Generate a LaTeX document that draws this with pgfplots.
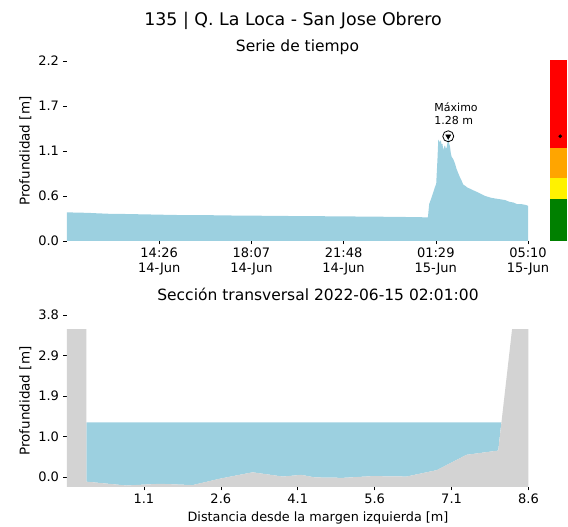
\documentclass[border=0pt]{standalone}
\usepackage{pgfplots}
\pgfplotsset{compat=1.18}
\usepackage{fontspec}
\setmainfont{DejaVu Sans}
\definecolor{agua}{HTML}{9CD0E0}
\definecolor{terreno}{HTML}{D3D3D3}
\definecolor{naranja}{HTML}{FFA500}
\definecolor{verde}{HTML}{008000}

\pgfplotsset{
  panel/.style={scale only axis, anchor=south west,
    axis line style={draw=none}, tick align=outside,
    major tick length=3.5pt, tick style={black, line width=0.6pt},
    xtick pos=left, ytick pos=left,
    ticklabel style={font=\fontsize{13}{15}\selectfont},
    ylabel style={font=\fontsize{13.5}{16}\selectfont},
    yticklabel style={xshift=-1pt},
  },
}

\pgfplotstableread{
t h
0 0.350
25 0.347
50 0.344
75 0.338
104 0.332
140 0.330
180 0.326
220 0.322
260 0.318
303 0.315
340 0.316
380 0.312
420 0.311
460 0.309
500 0.307
544 0.305
590 0.304
630 0.302
670 0.300
710 0.299
750 0.297
785 0.295
820 0.293
850 0.291
869 0.288
872 0.450
877 0.520
881 0.580
886 0.660
889 0.700
892 1.000
894 1.240
896 1.220
898 1.210
900 1.230
902 1.180
904 1.190
906 1.110
908 1.150
910 1.170
912 1.130
914 1.140
916 1.200
918 1.280
920 1.190
922 1.160
924 1.080
926 1.030
930 1.000
934 0.950
938 0.880
942 0.830
946 0.780
950 0.740
954 0.690
960 0.670
965 0.650
970 0.640
978 0.620
987 0.600
995 0.580
1007 0.550
1020 0.530
1030 0.520
1043 0.510
1055 0.500
1065 0.480
1075 0.470
1084 0.450
1095 0.450
1105 0.440
1110 0.430
}\serie

\begin{document}
\begin{tikzpicture}
\useasboundingbox (0,0) rectangle (568pt,527pt);

% serie de tiempo
\begin{axis}[panel, at={(67pt,286pt)}, width=461pt, height=180pt,
  xmin=0, xmax=1110, ymin=0, ymax=2.2,
  xtick={222,444,666,888,1110},
  xticklabels={14:26\\14-Jun,18:07\\14-Jun,21:48\\14-Jun,01:29\\15-Jun,05:10\\15-Jun},
  xticklabel style={align=center},
  ytick={0,0.55,1.1,1.65,2.2},
  yticklabels={0.0,0.6,1.1,1.7,2.2},
  ylabel={Profundidad [m]},
  title={Serie de tiempo},
  title style={font=\fontsize{15.5}{18}\selectfont, yshift=-3pt},
  clip=false]
\addplot[fill=agua, draw=none] table[x=t, y=h] {\serie} \closedcycle;
\addplot[only marks, mark=o, mark size=5.5pt, mark options={fill=white, draw=black, line width=0.8pt}] coordinates {(918,1.28)};
\addplot[only marks, mark=triangle*, mark size=3pt, mark options={rotate=180, fill=black, draw=black}] coordinates {(918,1.28)};
\node[anchor=south west, align=left, inner sep=0pt, font=\fontsize{11}{13}\selectfont]
  at (axis cs:918,1.28) [xshift=-14pt, yshift=11pt] {Máximo\\1.28 m};
\end{axis}

% barra de umbrales
\begin{axis}[scale only axis, anchor=south west, at={(550pt,286pt)},
  width=17pt, height=180pt, xmin=0, xmax=1, ymin=0, ymax=2.2, hide axis]
\addplot[fill=verde, draw=none] coordinates {(0,0) (1,0) (1,0.51) (0,0.51)} -- cycle;
\addplot[fill=yellow, draw=none] coordinates {(0,0.51) (1,0.51) (1,0.77) (0,0.77)} -- cycle;
\addplot[fill=naranja, draw=none] coordinates {(0,0.77) (1,0.77) (1,1.14) (0,1.14)} -- cycle;
\addplot[fill=red, draw=none] coordinates {(0,1.14) (1,1.14) (1,2.21) (0,2.21)} -- cycle;
\addplot[only marks, mark=*, mark size=1.6pt, black] coordinates {(0.6,1.28)};
\end{axis}

% seccion transversal
\begin{axis}[panel, at={(67pt,40pt)}, width=461.5pt, height=172pt,
  xmin=-0.4, xmax=8.6, ymin=-0.235, ymax=3.8,
  xtick={1.1,2.6,4.1,5.6,7.1,8.6},
  xticklabels={1.1,2.6,4.1,5.6,7.1,8.6},
  ytick={0,0.95,1.9,2.85,3.8},
  yticklabels={0.0,1.0,1.9,2.9,3.8},
  ylabel={Profundidad [m]},
  clip=false]
\addplot[fill=agua, draw=none] coordinates {
(-0.02,1.28) (8.07,1.28) (8.01,0.62) (7.39,0.52) (6.81,0.16) (6.22,0.01)
(5.56,0.02) (4.98,-0.02) (4.43,-0.01) (4.17,0.05) (3.81,0.01) (3.22,0.11)
(2.58,-0.04) (2.05,-0.19) (1.41,-0.16) (0.76,-0.20) (-0.02,-0.11)} -- cycle;
\addplot[fill=terreno, draw=none] coordinates {
(-0.4,3.47) (-0.02,3.47) (-0.02,-0.11) (0.76,-0.20) (1.41,-0.16) (2.05,-0.19)
(2.58,-0.04) (3.22,0.11) (3.81,0.01) (4.17,0.05) (4.43,-0.01) (4.98,-0.02)
(5.56,0.02) (6.22,0.01) (6.81,0.16) (7.39,0.52) (8.01,0.62) (8.28,3.47)
(8.6,3.47) (8.6,-0.235) (-0.4,-0.235)} -- cycle;
\end{axis}

\node[font=\fontsize{17.4}{20}\selectfont] at (293pt,506pt) {135 | Q. La Loca - San Jose Obrero};
\node[font=\fontsize{15.5}{18}\selectfont] at (318pt,233pt) {Sección transversal 2022-06-15 02:01:00};
\node[font=\fontsize{12.8}{15}\selectfont] at (318pt,9pt) {Distancia desde la margen izquierda [m]};
\end{tikzpicture}
\end{document}
